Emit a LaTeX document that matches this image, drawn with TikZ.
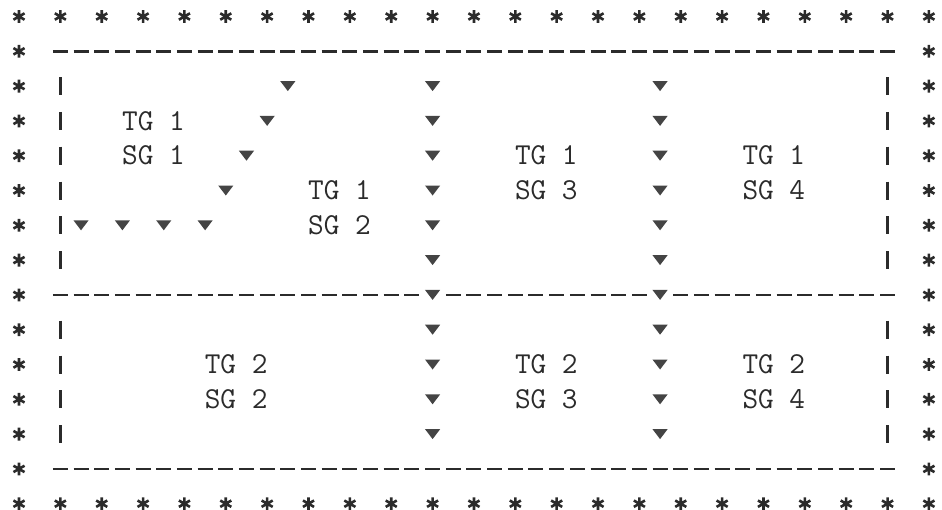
\documentclass[tikz,border=0pt]{standalone}
\usepackage{fontspec}
\usepackage{tikz}
\usepackage{xcolor}
\definecolor{ink}{HTML}{2B2B2B}
\definecolor{tricol}{HTML}{444444}

\begin{document}
\begin{tikzpicture}[x=10.34pt,y=-17.4pt,
  lbl/.style={inner sep=0pt,text=ink,
    font=\fontsize{15.2}{15}\selectfont\ttfamily\addfontfeatures{LetterSpace=15.8,FakeBold=1.3}},
  tri/.style={fill=tricol},
  bar/.style={draw=ink,line width=1.5pt},
  dashrow/.style={draw=ink,line width=1.35pt,dash pattern=on 7.5pt off 2.84pt},
  ast/.pic={\draw[ink,line width=1.3pt] (90:3.2pt) -- (270:3.2pt) (30:3.2pt) -- (210:3.2pt) (150:3.2pt) -- (330:3.2pt);}]
  % one unit = one character cell (x) / one text line (y)
  \useasboundingbox (-0.9188,-0.4741) rectangle (44.633,14.181);
  % Stjerneramme
  \foreach \c in {0,2,...,44} {\pic at (\c,0) {ast}; \pic at (\c,14) {ast};}
  \foreach \r in {1,...,13} {\pic at (0,\r) {ast}; \pic at (44,\r) {ast};}
  % Stiplede linjer
  \draw[dashrow] ([xshift=-3.75pt]2,1) -- ([xshift=3.75pt]42,1);
  \draw[dashrow] ([xshift=-3.75pt]2,13) -- ([xshift=3.75pt]42,13);
  \draw[dashrow] ([xshift=-3.75pt]2,8) -- ([xshift=3.75pt]19,8);
  \draw[dashrow] ([xshift=-3.75pt]21,8) -- ([xshift=3.75pt]30,8);
  \draw[dashrow] ([xshift=-3.75pt]32,8) -- ([xshift=3.75pt]42,8);
  % Loddrette streker
  \foreach \c in {2,42}
    \foreach \r in {2,...,7,9,10,11,12}
      \draw[bar] ([yshift=4.5pt]\c,\r) -- ([yshift=-4.5pt]\c,\r);
  % Trekanter
  \foreach \c/\r in {13/2,12/3,11/4,10/5,9/6,7/6,5/6,3/6}
    \fill[tri] (\c,\r) ++(-3.8pt,2.5pt) -- ++(7.6pt,0) -- ++(-3.8pt,-5pt) -- cycle;
  \foreach \c in {20,31}
    \foreach \r in {2,...,12}
      \fill[tri] (\c,\r) ++(-3.8pt,2.5pt) -- ++(7.6pt,0) -- ++(-3.8pt,-5pt) -- cycle;
  % Tekster
  \node[lbl] (tgA) at (6.5,3) {TG 1};
  \node[lbl] (sgA) at (6.5,4) {SG 1};
  \node[lbl] (tgB) at (15.5,5) {TG 1};
  \node[lbl] (sgB) at (15.5,6) {SG 2};
  \node[lbl] (tgC) at (25.5,4) {TG 1};
  \node[lbl] (sgC) at (25.5,5) {SG 3};
  \node[lbl] (tgD) at (36.5,4) {TG 1};
  \node[lbl] (sgD) at (36.5,5) {SG 4};
  \node[lbl] (tgE) at (10.5,10) {TG 2};
  \node[lbl] (sgE) at (10.5,11) {SG 2};
  \node[lbl] (tgF) at (25.5,10) {TG 2};
  \node[lbl] (sgF) at (25.5,11) {SG 3};
  \node[lbl] (tgG) at (36.5,10) {TG 2};
  \node[lbl] (sgG) at (36.5,11) {SG 4};
\end{tikzpicture}
\end{document}
